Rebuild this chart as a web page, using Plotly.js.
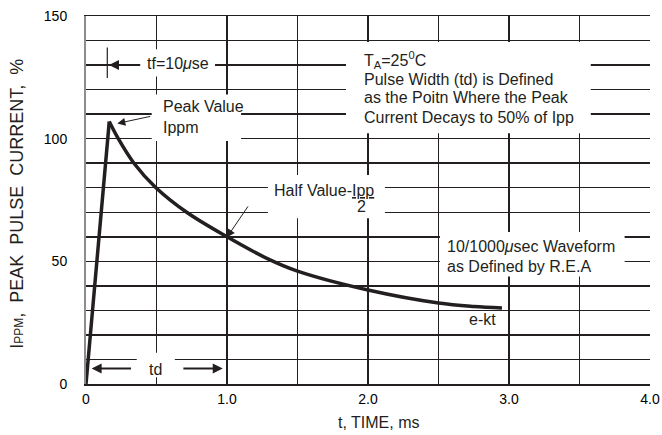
<!DOCTYPE html>
<html>
<head>
<meta charset="utf-8">
<script src="https://cdn.plot.ly/plotly-3.0.1.min.js"></script>
<style>html,body{margin:0;padding:0;background:#fff;}#chart{width:662px;height:435px;}</style>
</head>
<body>
<div id="chart"></div>
<script>
// ---- data ----
const riseTime = [0, 0.165];            // ms
const riseCurrent = [0, 107];           // %
const decayTime = [0.165, 0.229, 0.34, 0.496, 0.714, 1.0, 1.29, 1.5, 2.0, 2.5, 2.75, 2.95];
const decayCurrent = [107, 100, 90, 80, 70, 60, 51, 46, 38.3, 33, 31.6, 31];
const xTickVals = [0, 0.5, 1, 1.5, 2, 2.5, 3, 3.5, 4];
const xTickText = ['0', '', '1.0', '', '2.0', '', '3.0', '', '4.0'];
const yTickVals = [0, 10, 20, 30, 40, 50, 60, 70, 80, 90, 100, 110, 120, 130, 140, 150];
const yTickText = ['0', '', '', '', '', '50', '', '', '', '', '100', '', '', '', '', '150'];

const FONT = 'Liberation Sans, Arial, Helvetica, sans-serif';
const INK = '#231f20';

const traces = [
  {x: riseTime, y: riseCurrent, type: 'scatter', mode: 'lines',
   line: {color: INK, width: 3.5}, hoverinfo: 'skip', showlegend: false},
  {x: decayTime, y: decayCurrent, type: 'scatter', mode: 'lines',
   line: {color: INK, width: 3.5, shape: 'spline', smoothing: 1}, hoverinfo: 'skip', showlegend: false}
];

function box(x0, x1, y0, y1) {
  return {type: 'rect', layer: 'between', xref: 'x', yref: 'y', x0: x0, x1: x1, y0: y0, y1: y1,
          fillcolor: '#ffffff', line: {width: 0}};
}
function txt(x, y, text, xanchor, size) {
  return {xref: 'x', yref: 'y', x: x, y: y, text: text, showarrow: false,
          xanchor: xanchor || 'left', yanchor: 'middle', align: 'left', borderpad: 0,
          font: {family: FONT, size: size || 16, color: INK}};
}
function arrow(x, y, ax, ay, w) {
  return {xref: 'x', yref: 'y', axref: 'x', ayref: 'y', x: x, y: y, ax: ax, ay: ay, text: '',
          showarrow: true, arrowhead: 2, arrowsize: w > 1.5 ? 1 : 1.6, arrowwidth: w, arrowcolor: INK};
}

const shapes = [
  box(0.383, 0.915, 125.3, 136.4),
  box(0.466, 1.10, 99, 118),
  box(1.29, 2.12, 67.6, 85.2),
  box(1.844, 3.58, 102.2, 139.4),
  box(2.51, 3.82, 43.8, 62),
  box(0.36, 0.63, 2.8, 12.7),
  {type: 'line', xref: 'x', yref: 'y', x0: 0.151, x1: 0.151, y0: 124.7, y1: 137.2,
   line: {color: INK, width: 1.2}}
];

const annotations = [
  txt(0.649, 130.7, 'tf=10<i>μ</i>se', 'center'),
  arrow(-0.02, 130, -0.22, 130, 2),
  arrow(0.163, 130, 0.395, 130, 2),
  txt(0.536, 108.85, 'Peak Value<br>Ippm', 'left'),
  arrow(0.222, 106.2, 0.466, 109.2, 1),
  txt(1.326, 79, 'Half Value-<span style="text-decoration:underline">Ipp</span>', 'left'),
  txt(1.955, 72.2, '2', 'center'),
  arrow(1.0, 59.8, 1.156, 73, 1),
  txt(1.965, 132, 'T<sub>A</sub>=25<sup>0</sup>C', 'left'),
  txt(1.965, 124.3, 'Pulse Width (td) is Defined', 'left'),
  txt(1.965, 116.7, 'as the Poitn Where the Peak', 'left'),
  txt(1.965, 108.8, 'Current Decays to 50% of Ipp', 'left'),
  txt(2.55, 55.9, '10/1000<i>μ</i>sec Waveform', 'left'),
  txt(2.55, 47.9, 'as Defined by R.E.A', 'left'),
  txt(2.81, 26.4, 'e-kt', 'center'),
  txt(0.496, 6.1, 'td', 'center'),
  arrow(0.04, 6.3, 0.33, 6.3, 2),
  arrow(0.97, 6.3, 0.68, 6.3, 2),
  {xref: 'paper', yref: 'paper', x: 0.518, y: -0.105, text: 't, TIME, ms', showarrow: false,
   xanchor: 'center', yanchor: 'middle', font: {family: FONT, size: 16, color: INK}},
  {xref: 'paper', yref: 'paper', x: -0.1215, y: 0.491, textangle: -90,
   text: 'I<span style="font-size:12px">PPM</span>,  PEAK  PULSE  CURRENT,  %', showarrow: false,
   xanchor: 'center', yanchor: 'middle', font: {family: FONT, size: 18, color: INK}}
];

const layout = {
  width: 662, height: 435,
  margin: {l: 86, r: 12, t: 16, b: 51, pad: 0},
  paper_bgcolor: '#ffffff', plot_bgcolor: '#ffffff',
  showlegend: false,
  xaxis: {range: [0, 4], tickvals: xTickVals, ticktext: xTickText, showgrid: true,
          gridcolor: INK, gridwidth: 1.5, zeroline: false, showline: true, linecolor: INK,
          linewidth: 1.5, mirror: true, ticks: '', ticklabelstandoff: 2,
          tickfont: {family: FONT, size: 14, color: '#000'}, fixedrange: true},
  yaxis: {range: [0, 150], tickvals: yTickVals, ticktext: yTickText, showgrid: true,
          gridcolor: INK, gridwidth: 1.5, zeroline: false, showline: true, linecolor: '#8c8c8c',
          linewidth: 2, mirror: false, ticks: '', ticklabelstandoff: 14,
          tickfont: {family: FONT, size: 14, color: '#000'}, fixedrange: true},
  shapes: shapes,
  annotations: annotations
};

Plotly.newPlot('chart', traces, layout, {displayModeBar: false, staticPlot: true});
</script>
</body>
</html>
